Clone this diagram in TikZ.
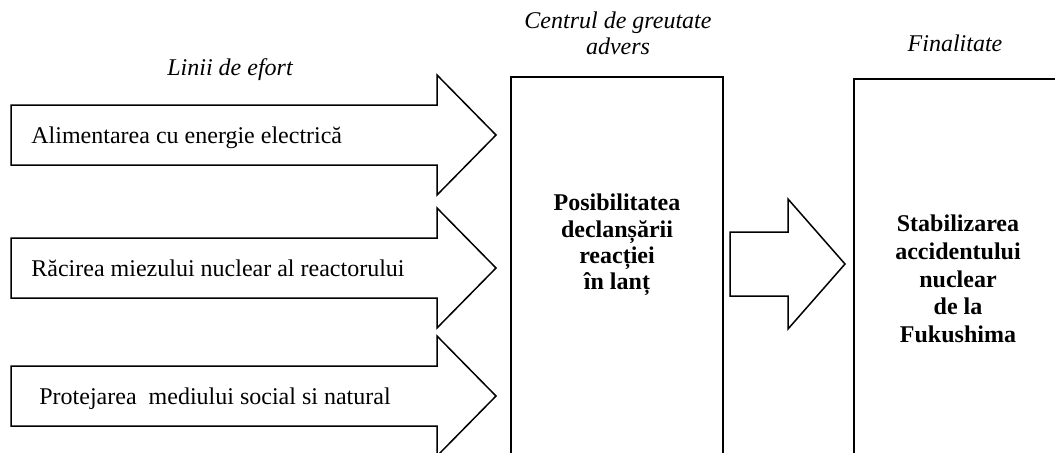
\documentclass[tikz,border=0pt]{standalone}
\usepackage{fontspec}
\setmainfont{Liberation Serif}
\usepackage{tikz}
\tikzstyle{sageata} = [draw=black, fill=white, line width=0.75pt, line join=miter]
\tikzstyle{caseta} = [draw=black, line width=0.9pt]
\tikzstyle{titlu} = [font=\fontsize{12pt}{13.2pt}\selectfont\itshape, align=center, inner sep=0pt]
\tikzstyle{eticheta} = [font=\fontsize{12pt}{13.5pt}\selectfont, anchor=base west, inner sep=0pt]
\tikzstyle{tinta} = [font=\fontsize{12pt}{13.2pt}\selectfont\bfseries, align=center, inner sep=0pt]

\begin{document}
\begin{tikzpicture}[x=0.5pt, y=-0.5pt]
	\clip (0,0) rectangle (1055,452);
	% titluri
	\node[titlu] (linii) at (230,70) {Linii de efort};
	\node[titlu] (centru) at (618,33) {Centrul de greutate\\advers};
	\node[titlu] (final) at (955,43) {Finalitate};
	% liniile de efort
	\draw[sageata] (11,105) -- (437,105) -- (437,75) -- (496,135) -- (437,195) -- (437,165) -- (11,165) -- cycle;
	\draw[sageata] (11,238) -- (437,238) -- (437,208) -- (496,268) -- (437,328) -- (437,298) -- (11,298) -- cycle;
	\draw[sageata] (11,366) -- (437,366) -- (437,336) -- (496,396) -- (437,456) -- (437,426) -- (11,426) -- cycle;
	\node[eticheta] (alim) at (31,143) {Alimentarea cu energie electrică};
	\node[eticheta] (racire) at (31,276) {Răcirea miezului nuclear al reactorului};
	\node[eticheta] (protej) at (39,404) {Protejarea\ \ mediului social si natural};
	% centrul de greutate
	\draw[caseta] (511,77) rectangle (723,470);
	\node[tinta] (posib) at (617,245) {Posibilitatea\\declanșării\\reacției\\în lanț};
	% sageata spre finalitate
	\draw[sageata] (730,232) -- (788,232) -- (788,199) -- (845,264) -- (788,329) -- (788,296) -- (730,296) -- cycle;
	% finalitate
	\draw[caseta] (854,79) rectangle (1070,470);
	\node[tinta, font=\fontsize{12pt}{13.9pt}\selectfont\bfseries] (stab) at (958,279) {Stabilizarea\\accidentului\\nuclear\\de la\\Fukushima};
\end{tikzpicture}
\end{document}
